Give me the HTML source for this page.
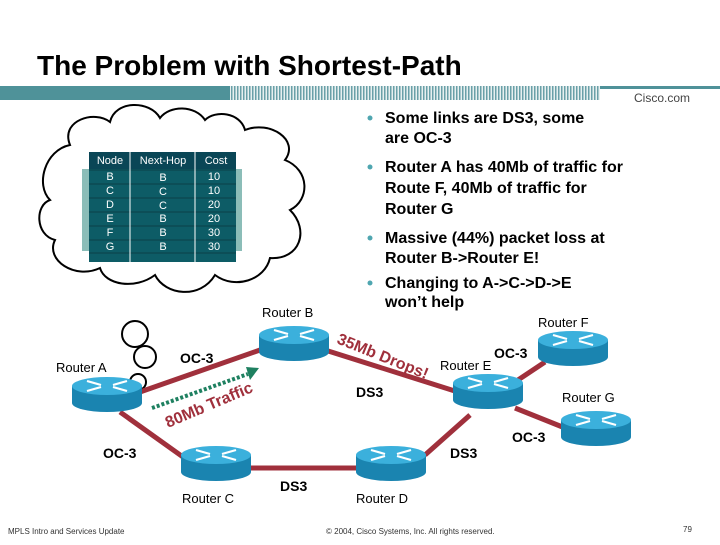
<!DOCTYPE html>
<html><head><meta charset="utf-8"><style>
body{margin:0;width:720px;height:540px;background:#fff;overflow:hidden;font-family:"Liberation Sans",Arial,sans-serif}
</style></head><body>
<svg width="720" height="540" viewBox="0 0 720 540" xmlns="http://www.w3.org/2000/svg" font-family="Liberation Sans, Arial, sans-serif">
<defs>
<pattern id="hatch" width="3" height="14" patternUnits="userSpaceOnUse"><rect width="3" height="14" fill="#e8f0f0"/><rect width="1.5" height="14" fill="#6aa0a8"/></pattern>
<g id="rt">
<path d="M-35,0 L-35,17 A35,9 0 0 0 35,17 L35,0 Z" fill="#1a84b0"/>
<ellipse cx="0" cy="0" rx="35" ry="9" fill="#3bb0dc"/>
<g stroke="#fff" stroke-width="2.2" fill="#fff">
<line x1="-20" y1="-5" x2="-6" y2="-1"/><line x1="20" y1="5" x2="6" y2="1"/>
<line x1="20" y1="-5" x2="6" y2="-1"/><line x1="-20" y1="5" x2="-6" y2="1"/>
</g>
</g>
</defs>
<text x="37" y="75" font-size="28" font-weight="bold">The Problem with Shortest-Path</text>
<rect x="0" y="86" width="720" height="14" fill="#4f9299"/>
<rect x="230" y="86" width="370" height="14" fill="url(#hatch)"/>
<rect x="600" y="86" width="120" height="14" fill="#fff"/>
<rect x="600" y="86" width="120" height="3" fill="#4f9299"/>
<text x="690" y="102" font-size="12" fill="#444" text-anchor="end">Cisco.com</text>

<g font-size="16" font-weight="bold" fill="#000">
<g fill="#4fa6b0"><circle cx="370" cy="118" r="2.5"/><circle cx="370" cy="167" r="2.5"/><circle cx="370" cy="238" r="2.5"/><circle cx="370" cy="283" r="2.5"/></g>
<text x="385" y="123">Some links are DS3, some</text>
<text x="385" y="143">are OC-3</text>
<text x="385" y="172">Router A has 40Mb of traffic for</text>
<text x="385" y="193">Route F, 40Mb of traffic for</text>
<text x="385" y="214">Router G</text>
<text x="385" y="243">Massive (44%) packet loss at</text>
<text x="385" y="263">Router B-&gt;Router E!</text>
<text x="385" y="288">Changing to A-&gt;C-&gt;D-&gt;E</text>
<text x="385" y="307">won’t help</text>
</g>

<!-- cloud -->
<g fill="#fff" stroke="#000" stroke-width="2">
<path d="M70,145 C60,120 95,110 110,122 C115,100 150,100 160,118 C170,105 195,105 205,120 C215,110 240,112 245,130 C270,120 300,140 285,160 C310,170 310,200 290,210 C310,230 300,260 270,258 C265,280 235,290 215,275 C200,300 165,295 155,275 C135,290 105,285 100,268 C75,280 45,260 55,240 C35,235 35,205 50,200 C35,185 45,150 70,145 Z"/>
<circle cx="135" cy="334" r="13"/>
<circle cx="145" cy="357" r="11"/>
<circle cx="138" cy="382" r="8"/>
</g>
<!-- table -->
<rect x="82" y="169" width="160" height="82" fill="#8bbdb8"/>
<rect x="89" y="152" width="147" height="110" fill="#0d5c66"/>
<g stroke="#0a3f48" stroke-width="1"><line x1="89" y1="170" x2="236" y2="170"/><line x1="89" y1="184" x2="236" y2="184"/><line x1="89" y1="198" x2="236" y2="198"/><line x1="89" y1="212" x2="236" y2="212"/><line x1="89" y1="226" x2="236" y2="226"/><line x1="89" y1="240" x2="236" y2="240"/><line x1="89" y1="253" x2="236" y2="253"/></g>
<rect x="89" y="152" width="147" height="17" fill="#0a4656"/>
<g stroke="#fff" stroke-width="1"><line x1="130" y1="152" x2="130" y2="262"/><line x1="195" y1="152" x2="195" y2="262"/></g>
<g fill="#fff" font-size="11" text-anchor="middle">
<text x="110" y="164">Node</text><text x="163" y="164">Next-Hop</text><text x="216" y="164">Cost</text>
<text x="110" y="180">B</text><text x="163" y="181">B</text><text x="214" y="180">10</text>
<text x="110" y="194">C</text><text x="163" y="195">C</text><text x="214" y="194">10</text>
<text x="110" y="208">D</text><text x="163" y="209">C</text><text x="214" y="208">20</text>
<text x="110" y="222">E</text><text x="163" y="222">B</text><text x="214" y="222">20</text>
<text x="110" y="236">F</text><text x="163" y="236">B</text><text x="214" y="236">30</text>
<text x="110" y="250">G</text><text x="163" y="250">B</text><text x="214" y="250">30</text>
</g>

<!-- links -->
<g stroke="#a0303c" stroke-width="5">
<line x1="140" y1="392" x2="260" y2="350"/>
<line x1="120" y1="412" x2="190" y2="462"/>
<line x1="250" y1="468" x2="360" y2="468"/>
<line x1="425" y1="455" x2="470" y2="415"/>
<line x1="325" y1="350" x2="458" y2="392"/>
<line x1="515" y1="382" x2="545" y2="362"/>
<line x1="515" y1="408" x2="565" y2="428"/>
</g>
<line x1="152" y1="408" x2="248" y2="374" stroke="#1e8060" stroke-width="4" stroke-dasharray="3,2"/>
<polygon points="246,367 259,368 250,380" fill="#1e8060"/>

<!-- routers -->
<use href="#rt" x="107" y="386"/>
<use href="#rt" x="294" y="335"/>
<use href="#rt" x="216" y="455"/>
<use href="#rt" x="391" y="455"/>
<use href="#rt" x="488" y="383"/>
<use href="#rt" x="573" y="340"/>
<use href="#rt" x="596" y="420"/>

<g font-size="14" font-weight="bold">
<text x="180" y="363">OC-3</text>
<text x="103" y="458">OC-3</text>
<text x="356" y="397">DS3</text>
<text x="450" y="458">DS3</text>
<text x="280" y="491">DS3</text>
<text x="494" y="358">OC-3</text>
<text x="512" y="442">OC-3</text>
</g>
<g font-size="13">
<text x="262" y="317">Router B</text>
<text x="56" y="372">Router A</text>
<text x="182" y="503">Router C</text>
<text x="356" y="503">Router D</text>
<text x="440" y="370">Router E</text>
<text x="538" y="327">Router F</text>
<text x="562" y="402">Router G</text>
</g>
<g font-size="16" font-weight="bold" fill="#a0303c">
<text x="0" y="0" transform="translate(168,428) rotate(-23)">80Mb Traffic</text>
<text x="0" y="0" transform="translate(336,343) rotate(22)">35Mb Drops!</text>
</g>
<g font-size="8" fill="#333">
<text x="8" y="534">MPLS Intro and Services Update</text>
<text x="326" y="534">© 2004, Cisco Systems, Inc. All rights reserved.</text>
<text x="683" y="532">79</text>
</g>
</svg>
</body></html>
